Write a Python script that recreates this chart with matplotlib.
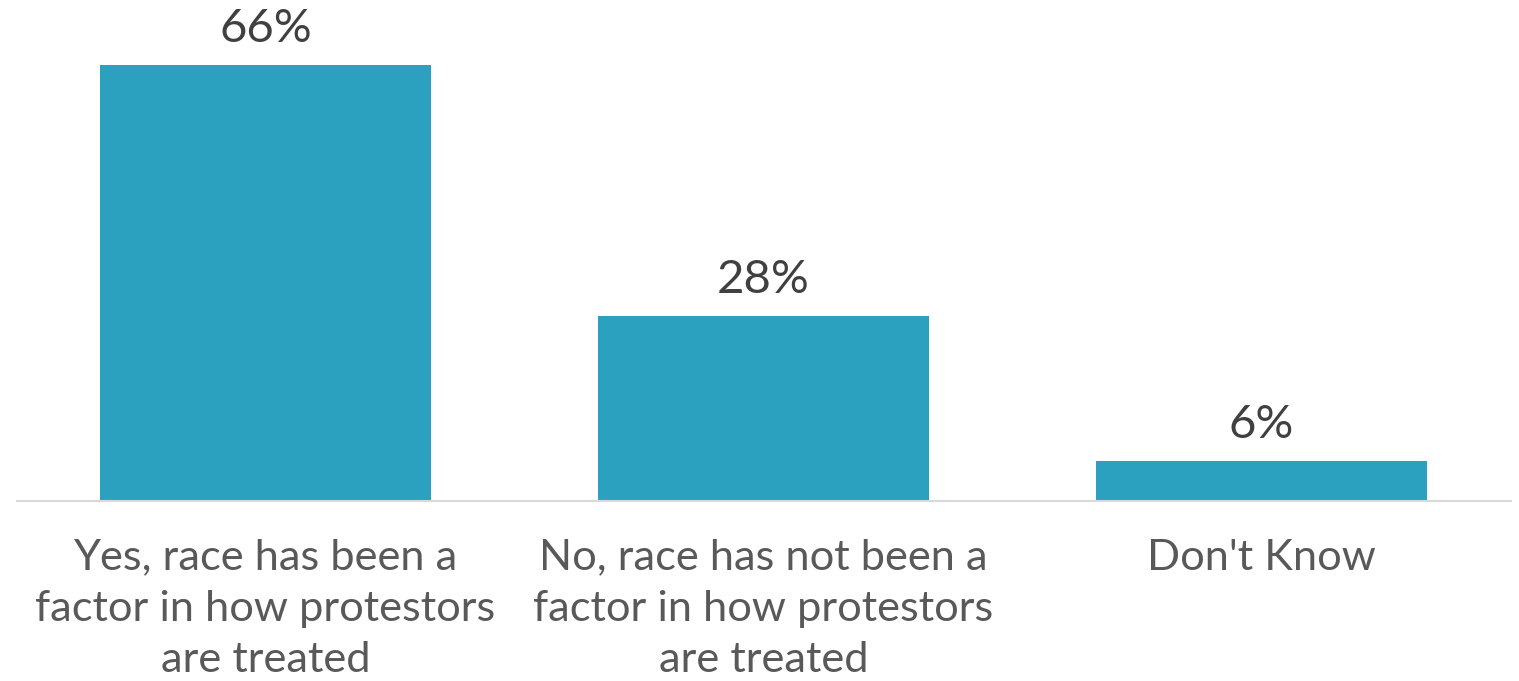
import matplotlib
matplotlib.use("Agg")
import matplotlib.pyplot as plt

categories = [
    "Yes, race has been a\nfactor in how protestors\nare treated",
    "No, race has not been a\nfactor in how protestors\nare treated",
    "Don't Know",
]
values = [66, 28, 6]
value_labels = ["66%", "28%", "6%"]

BAR_COLOR = "#2CA1BF"

plt.rcParams['font.family'] = ['Lato', 'DejaVu Sans']

fig = plt.figure(figsize=(15.19, 6.81), dpi=100)
ax = fig.add_axes([16.5 / 1519, 180 / 681, 1494 / 1519, 501 / 681])

x = list(range(len(categories)))
bars = ax.bar(x, values, width=0.665, color=BAR_COLOR)

for xi, v, lab in zip(x, values, value_labels):
    ax.annotate(lab, (xi, v), xytext=(0, 11), textcoords="offset points",
                ha="center", va="bottom", fontsize=34, color="#404040")

ax.set_xlim(-0.5, len(categories) - 0.5)
ax.set_ylim(0, 75.84)
ax.set_xticks(x)
ax.set_xticklabels(categories, fontsize=31.2, color="#595959", linespacing=1.42)
ax.tick_params(axis="x", length=0, pad=27)
ax.set_yticks([])
for s in ["top", "right", "left"]:
    ax.spines[s].set_visible(False)
ax.spines["bottom"].set_color("#D9D9D9")
ax.spines["bottom"].set_linewidth(1.5)

fig.savefig("out.png", dpi=100)
